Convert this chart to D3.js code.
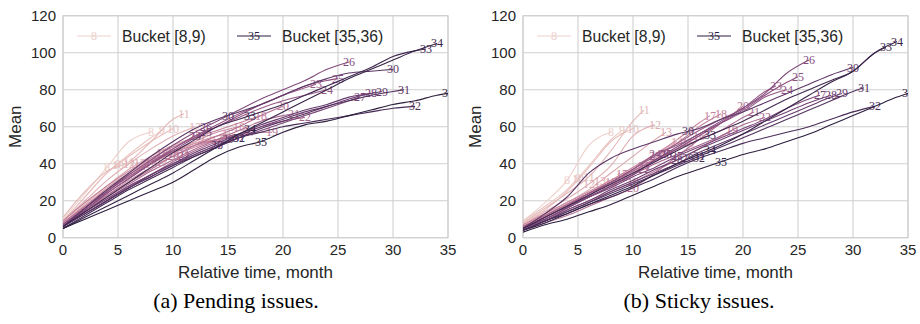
<!DOCTYPE html>
<html>
<head>
<meta charset="utf-8">
<script src="https://cdn.jsdelivr.net/npm/d3@7"></script>
<style>
  body { margin: 0; background: #fff; }
  svg { display: block; }
</style>
</head>
<body>
<svg id="chart" width="920" height="324"></svg>
<script>
// Buckets of issue age ([k, k+1) months); each series runs from month 0 to month k.
const buckets = [8, 9, 10, 11, 12, 13, 14, 15, 16, 17, 18, 19, 20, 21,
                 22, 23, 24, 25, 26, 27, 28, 29, 30, 31, 32, 33, 34, 35];
const legendBuckets = [8, 35];
const sampleStep = 2;              // months between stored samples (last month always kept)
const xTicks = [0, 5, 10, 15, 20, 25, 30, 35];
const yTicks = [0, 20, 40, 60, 80, 100, 120];
const captions = ["(a) Pending issues.", "(b) Sticky issues."];

// Mean count of pending issues, one row per bucket
const pendingMeans = [
  [10, 24, 38, 52, 57],
  [9, 22, 35, 45, 54, 58],
  [9, 22, 35, 44, 52, 59],
  [11, 25, 36, 41, 52, 64, 67],
  [9, 20, 31, 40, 48, 55, 60],
  [8, 18, 28, 37, 44, 50, 54, 55],
  [8, 17, 27, 35, 42, 47, 51, 53],
  [7, 16, 25, 33, 40, 46, 51, 55, 56],
  [8, 17, 26, 34, 41, 47, 52, 57, 60],
  [7, 15, 23, 31, 38, 44, 49, 53, 56, 57],
  [9, 19, 28, 36, 43, 49, 54, 58, 62, 66],
  [8, 17, 26, 33, 40, 46, 50, 53, 55, 57, 57],
  [7, 15, 23, 30, 37, 44, 50, 55, 60, 66, 71],
  [7, 15, 22, 29, 36, 42, 48, 53, 58, 63, 66, 67],
  [7, 14, 21, 28, 34, 41, 47, 52, 56, 60, 63, 65],
  [7, 16, 25, 33, 41, 48, 55, 61, 67, 72, 77, 81, 83],
  [6, 15, 24, 32, 40, 48, 55, 60, 65, 70, 74, 77, 80],
  [6, 15, 24, 32, 40, 47, 54, 60, 66, 72, 77, 82, 85, 86],
  [7, 16, 25, 34, 42, 50, 57, 63, 69, 75, 80, 85, 91, 95],
  [6, 14, 21, 28, 34, 40, 45, 50, 54, 58, 62, 66, 70, 74, 76],
  [6, 13, 20, 27, 33, 39, 45, 50, 55, 60, 64, 68, 71, 75, 78],
  [6, 13, 20, 27, 34, 40, 46, 51, 56, 61, 65, 69, 72, 76, 78, 79],
  [6, 16, 26, 35, 44, 52, 59, 64, 68, 72, 77, 82, 86, 89, 90, 91],
  [6, 13, 20, 27, 33, 39, 44, 49, 54, 59, 63, 67, 71, 74, 77, 79, 80],
  [5, 12, 19, 26, 32, 38, 44, 49, 54, 57, 60, 62, 64, 66, 68, 70, 71],
  [6, 14, 22, 30, 38, 46, 53, 60, 64, 68, 72, 77, 82, 87, 92, 98, 101, 102],
  [5, 11, 17, 23, 29, 35, 42, 49, 56, 62, 68, 74, 80, 86, 91, 96, 101, 105],
  [5, 10, 15, 20, 25, 30, 37, 44, 49, 52, 57, 61, 63, 66, 69, 72, 74, 77, 78]
];

// Mean count of sticky issues, one row per bucket
const stickyMeans = [
  [9, 19, 31, 50, 57],
  [9, 17, 26, 39, 53, 58],
  [8, 15, 25, 38, 52, 59],
  [8, 16, 24, 33, 47, 63, 69],
  [7, 14, 21, 29, 39, 55, 61],
  [7, 13, 19, 26, 35, 44, 53, 57],
  [6, 12, 18, 24, 31, 38, 45, 52],
  [6, 12, 18, 24, 30, 36, 42, 48, 51],
  [6, 11, 17, 23, 29, 35, 41, 48, 55],
  [7, 13, 19, 25, 31, 38, 45, 53, 62, 66],
  [6, 12, 18, 24, 30, 36, 43, 51, 60, 67],
  [5, 10, 15, 20, 25, 30, 36, 42, 48, 55, 58],
  [4, 8, 12, 17, 22, 27, 35, 44, 53, 62, 71],
  [6, 12, 18, 24, 30, 36, 42, 48, 53, 58, 65, 68],
  [6, 11, 17, 22, 28, 34, 40, 45, 50, 55, 61, 65],
  [5, 11, 17, 23, 30, 37, 44, 51, 58, 64, 70, 79, 82],
  [5, 11, 17, 24, 30, 37, 45, 50, 56, 62, 68, 76, 80],
  [5, 10, 16, 22, 28, 34, 42, 48, 55, 62, 69, 77, 84, 87],
  [5, 10, 16, 22, 28, 34, 42, 49, 56, 63, 70, 78, 89, 96],
  [5, 10, 16, 22, 27, 33, 38, 44, 49, 54, 59, 64, 70, 75, 77],
  [4, 9, 15, 20, 26, 31, 37, 42, 48, 53, 58, 63, 68, 73, 77],
  [4, 9, 14, 19, 25, 30, 35, 40, 46, 51, 56, 61, 66, 71, 76, 78],
  [5, 13, 22, 35, 43, 48, 52, 56, 59, 64, 68, 73, 78, 83, 88, 92],
  [4, 9, 14, 19, 24, 29, 34, 39, 44, 49, 54, 59, 64, 69, 74, 79, 81],
  [4, 9, 13, 18, 22, 27, 32, 38, 43, 47, 51, 54, 57, 60, 64, 68, 71],
  [5, 11, 17, 23, 29, 35, 41, 47, 53, 58, 63, 69, 75, 80, 85, 90, 100, 103],
  [4, 8, 13, 18, 23, 28, 34, 40, 45, 50, 56, 63, 70, 77, 84, 90, 100, 106],
  [3, 7, 10, 14, 18, 23, 28, 33, 37, 41, 45, 48, 52, 56, 61, 66, 71, 76, 78]
];

// Light-to-dark cubehelix palette (seaborn default parameters)
function cubehelixPalette(n, start = 0, rot = 0.4, gamma = 1, hue = 0.8, light = 0.85, dark = 0.15) {
  const clamp = v => Math.max(0, Math.min(1, v));
  return d3.range(n).map(i => {
    const t = light + (dark - light) * i / (n - 1);
    const tg = Math.pow(t, gamma);
    const a = hue * tg * (1 - tg) / 2;
    const phi = 2 * Math.PI * (start / 3 + rot * t);
    const c = Math.cos(phi), s = Math.sin(phi);
    const r = tg + a * (-0.14861 * c + 1.78277 * s);
    const g = tg + a * (-0.29227 * c - 0.90649 * s);
    const b = tg + a * (1.97294 * c);
    return d3.rgb(255 * clamp(r), 255 * clamp(g), 255 * clamp(b)).formatHex();
  });
}
const palette = cubehelixPalette(buckets.length);
const colorOf = d3.scaleOrdinal().domain(buckets).range(palette);

// Months at which a bucket's means are stored
function sampleMonths(k) {
  const m = d3.range(0, k + 1, sampleStep);
  if (m[m.length - 1] !== k) m.push(k);
  return m;
}

const svg = d3.select("#chart");
const sansFont = "'Liberation Sans', Arial, sans-serif";
const markFont = "'Liberation Serif', 'DejaVu Serif', serif";

function drawPanel(panelIndex, means, ox) {
  const left = ox + 63, right = ox + 448, top = 15.7, bottom = 237.7;
  const x = d3.scaleLinear().domain([0, 35]).range([left, right]);
  const y = d3.scaleLinear().domain([0, 120]).range([bottom, top]);
  const g = svg.append("g");

  const clipId = "clip" + panelIndex;
  svg.append("clipPath").attr("id", clipId)
    .append("rect").attr("x", left).attr("y", top)
    .attr("width", right - left).attr("height", bottom - top);

  // grid
  g.append("g").selectAll("line").data(xTicks).join("line")
    .attr("x1", d => x(d)).attr("x2", d => x(d))
    .attr("y1", top).attr("y2", bottom)
    .attr("stroke", "#cfcfcf").attr("stroke-width", 1.1);
  g.append("g").selectAll("line").data(yTicks).join("line")
    .attr("x1", left).attr("x2", right)
    .attr("y1", d => y(d)).attr("y2", d => y(d))
    .attr("stroke", "#cfcfcf").attr("stroke-width", 1.1);
  g.append("rect").attr("x", left).attr("y", top)
    .attr("width", right - left).attr("height", bottom - top)
    .attr("fill", "none").attr("stroke", "#cfcfcf").attr("stroke-width", 1.1);

  // tick labels
  g.append("g").selectAll("text").data(yTicks).join("text")
    .attr("x", left - 7).attr("y", d => y(d))
    .attr("text-anchor", "end").attr("dominant-baseline", "central")
    .attr("font-family", sansFont).attr("font-size", 15).attr("fill", "#262626")
    .text(d => d);
  g.append("g").selectAll("text").data(xTicks).join("text")
    .attr("x", d => x(d)).attr("y", bottom + 12)
    .attr("text-anchor", "middle").attr("dominant-baseline", "central")
    .attr("font-family", sansFont).attr("font-size", 15).attr("fill", "#262626")
    .text(d => d);

  // axis titles
  g.append("text")
    .attr("x", (left + right) / 2).attr("y", 272)
    .attr("text-anchor", "middle").attr("dominant-baseline", "central")
    .attr("font-family", sansFont).attr("font-size", 17).attr("fill", "#262626")
    .text("Relative time, month");
  g.append("text")
    .attr("transform", `translate(${ox + 15},${(top + bottom) / 2}) rotate(-90)`)
    .attr("text-anchor", "middle").attr("dominant-baseline", "central")
    .attr("font-family", sansFont).attr("font-size", 17).attr("fill", "#262626")
    .text("Mean");

  // series
  const line = d3.line().x(d => x(d[0])).y(d => y(d[1])).curve(d3.curveMonotoneX);
  const plot = g.append("g").attr("clip-path", `url(#${clipId})`);
  buckets.forEach((k, i) => {
    const pts = sampleMonths(k).map((m, j) => [m, means[i][j]]);
    const col = colorOf(k);
    plot.append("path").datum(pts)
      .attr("d", line).attr("fill", "none")
      .attr("stroke", col).attr("stroke-width", 1.1);
    // bucket markers at the middle month and the last month
    const midMonth = Math.floor((k + 1) / 2);
    const interp = d3.scaleLinear().domain(pts.map(p => p[0])).range(pts.map(p => p[1]));
    const marks = [[midMonth, interp(midMonth)], pts[pts.length - 1]];
    plot.append("g").selectAll("text").data(marks).join("text")
      .attr("x", d => x(d[0])).attr("y", d => y(d[1]))
      .attr("text-anchor", "middle").attr("dominant-baseline", "central")
      .attr("font-family", markFont).attr("font-size", 12)
      .attr("fill", col)
      .text(k);
  });

  // legend
  const legendY = 36;
  const legendSlots = [{ x0: ox + 77, tx: ox + 122 }, { x0: ox + 237, tx: ox + 282 }];
  legendBuckets.forEach((k, i) => {
    const s = legendSlots[i], col = colorOf(k);
    g.append("line").attr("x1", s.x0).attr("x2", s.x0 + 34)
      .attr("y1", legendY).attr("y2", legendY)
      .attr("stroke", col).attr("stroke-width", 1.1);
    g.append("text").attr("x", s.x0 + 17).attr("y", legendY)
      .attr("text-anchor", "middle").attr("dominant-baseline", "central")
      .attr("font-family", markFont).attr("font-size", 12)
      .attr("fill", col)
      .text(k);
    g.append("text").attr("x", s.tx).attr("y", legendY)
      .attr("dominant-baseline", "central")
      .attr("font-family", sansFont).attr("font-size", 15.7).attr("fill", "#262626")
      .text(`Bucket [${k},${k + 1})`);
  });

  // caption
  g.append("text")
    .attr("x", ox + (panelIndex === 0 ? 236 : 239)).attr("y", 308)
    .attr("text-anchor", "middle")
    .attr("font-family", "'Liberation Serif', 'Times New Roman', serif")
    .attr("font-size", 22).attr("fill", "#000")
    .text(captions[panelIndex]);
}

drawPanel(0, pendingMeans, 0);
drawPanel(1, stickyMeans, 460);
</script>
</body>
</html>
